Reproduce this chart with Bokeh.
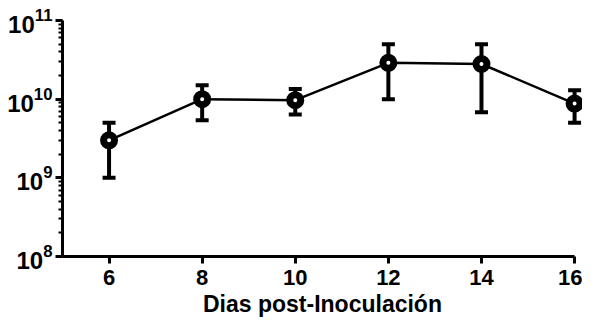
from bokeh.plotting import figure
from bokeh.models import ColumnDataSource, Whisker, TeeHead, LogTicker, FixedTicker, Range1d
from bokeh.embed import file_html
from bokeh.resources import INLINE

# data
days = [6, 8, 10, 12, 14, 16]
titer = [3.0e9, 1.0e10, 9.7e9, 2.9e10, 2.8e10, 8.8e9]
upper = [5.0e9, 1.5e10, 1.35e10, 5.0e10, 5.0e10, 1.3e10]
lower = [1.0e9, 5.4e9, 6.4e9, 1.0e10, 6.8e9, 5.0e9]
x_ticks = [6, 8, 10, 12, 14, 16]
x_label = "Dias post-Inoculación"

src = ColumnDataSource(dict(x=days, y=titer, upper=upper, lower=lower))

FONT = "Liberation Sans"

p = figure(width=582, height=319, output_backend="svg", toolbar_location=None,
           y_axis_type="log",
           x_range=Range1d(5, 16.17), y_range=Range1d(1e8, 1e11),
           min_border_left=62, min_border_right=0, min_border_top=20,
           min_border_bottom=0)
p.outline_line_color = None
p.grid.visible = False
p.background_fill_color = "white"
p.border_fill_color = "white"

wh = Whisker(source=src, base="x", upper="upper", lower="lower",
             line_width=4, line_color="black",
             upper_head=TeeHead(size=13, line_width=4, line_color="black"),
             lower_head=TeeHead(size=13, line_width=4, line_color="black"))
p.add_layout(wh)

p.line("x", "y", source=src, line_width=2.5, line_color="black")
p.scatter("x", "y", source=src, size=11, fill_color="white",
          line_color="black", line_width=7)

# x axis
xa = p.xaxis[0]
xa.ticker = FixedTicker(ticks=x_ticks, minor_ticks=[])
xa.bounds = (5, 16)
xa.axis_line_width = 3
xa.major_tick_line_width = 3
xa.major_tick_out = 7
xa.major_tick_in = 0
xa.minor_tick_out = 0
xa.major_label_standoff = 6
xa.major_label_text_font = FONT
xa.major_label_text_font_style = "bold"
xa.major_label_text_font_size = "22px"
xa.major_label_text_color = "black"
xa.axis_label = x_label
xa.axis_label_text_font = FONT
xa.axis_label_text_font_style = "bold"
xa.axis_label_text_font_size = "23px"
xa.axis_label_text_color = "black"
xa.axis_label_standoff = 3

# y axis
ya = p.yaxis[0]
ya.ticker = LogTicker(num_minor_ticks=10)
ya.bounds = (1e8, 1e11)
ya.axis_line_width = 3
ya.major_tick_line_width = 3
ya.minor_tick_line_width = 2
ya.major_tick_out = 7
ya.major_tick_in = 0
ya.minor_tick_out = 4
ya.minor_tick_in = 0
ya.major_label_standoff = 3
ya.major_label_text_font = FONT
ya.major_label_text_font_style = "bold"
ya.major_label_text_font_size = "24px"
ya.major_label_text_color = "black"

open("out.html", "w").write(file_html(p, INLINE))
